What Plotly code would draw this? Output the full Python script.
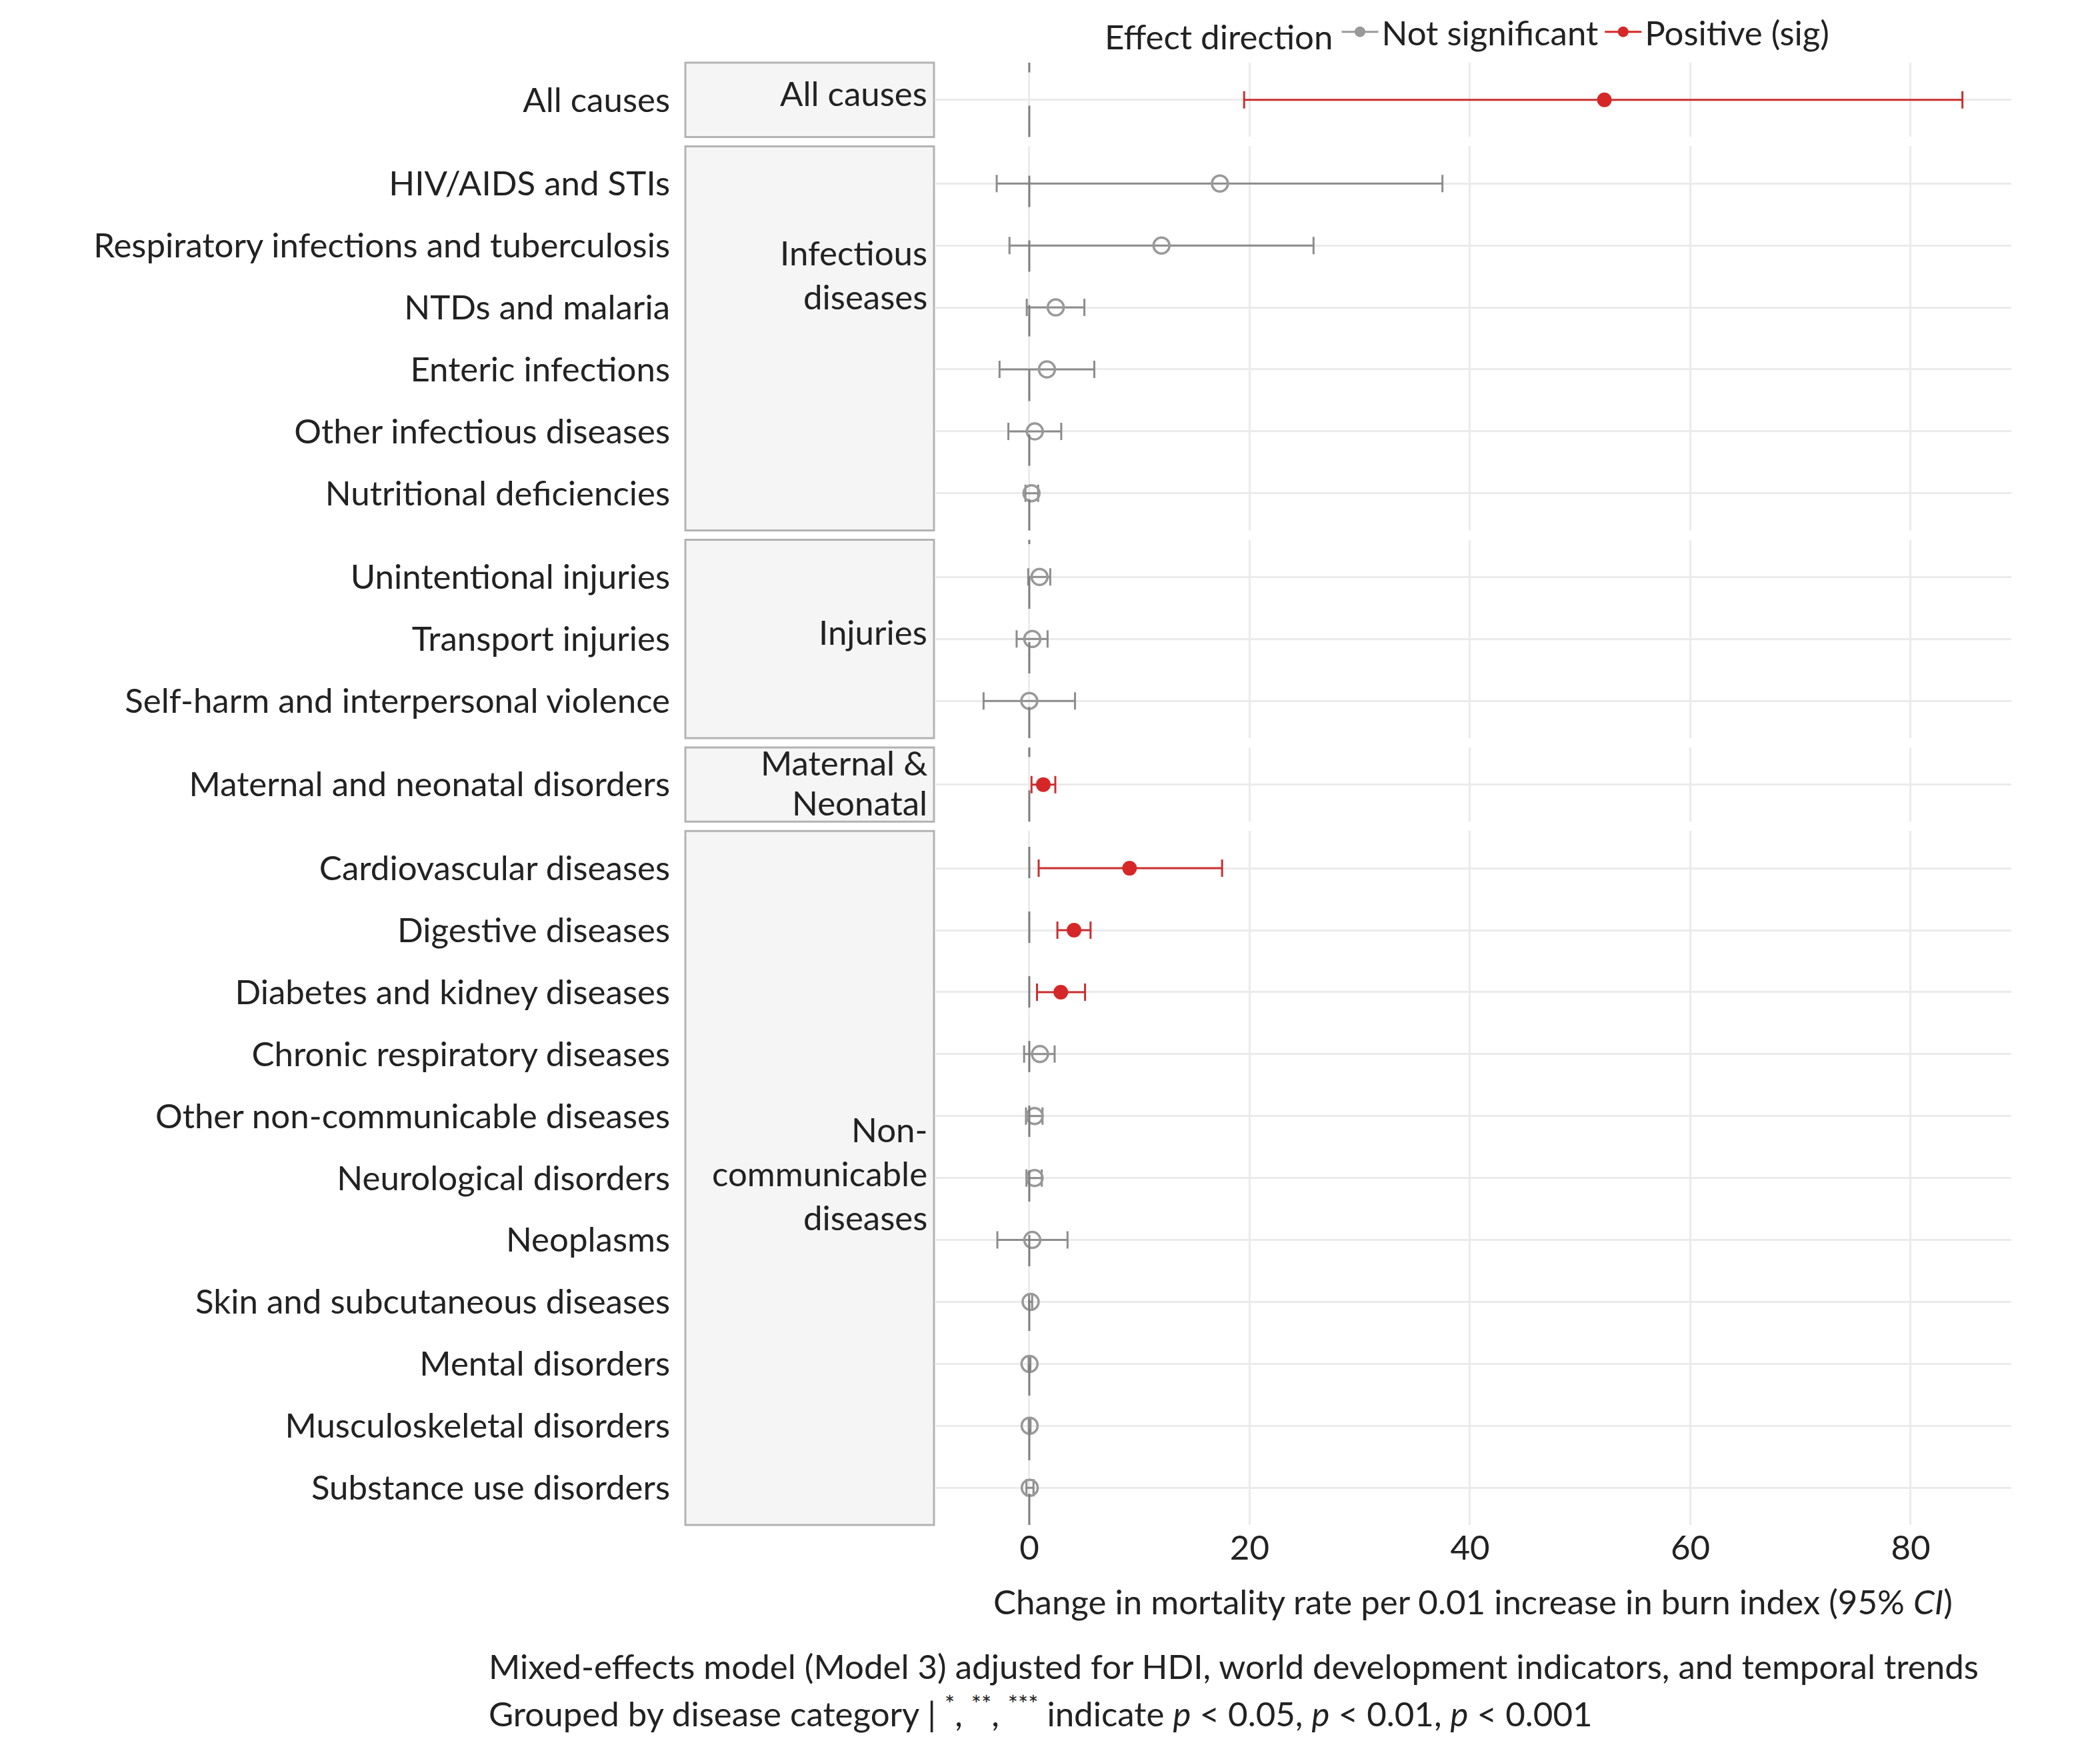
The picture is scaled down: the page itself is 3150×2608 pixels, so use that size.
import plotly.graph_objects as go
from plotly.subplots import make_subplots

# ---------------- data ----------------
group_names = ["All causes", "Infectious diseases", "Injuries",
               "Maternal & Neonatal", "Non-communicable diseases"]

all_causes_labels = ["All causes"]
all_causes_est = [52.2]
all_causes_lo = [19.5]
all_causes_hi = [84.7]
all_causes_sig = [True]

infectious_labels = ["HIV/AIDS and STIs", "Respiratory infections and tuberculosis",
                     "NTDs and malaria", "Enteric infections",
                     "Other infectious diseases", "Nutritional deficiencies"]
infectious_est = [17.3, 12.0, 2.4, 1.6, 0.5, 0.2]
infectious_lo = [-2.96, -1.8, -0.23, -2.7, -1.9, -0.35]
infectious_hi = [37.5, 25.8, 5.0, 5.9, 2.9, 0.8]
infectious_sig = [False, False, False, False, False, False]

injuries_labels = ["Unintentional injuries", "Transport injuries",
                   "Self-harm and interpersonal violence"]
injuries_est = [0.93, 0.27, 0.0]
injuries_lo = [-0.1, -1.15, -4.15]
injuries_hi = [1.9, 1.66, 4.15]
injuries_sig = [False, False, False]

maternal_labels = ["Maternal and neonatal disorders"]
maternal_est = [1.27]
maternal_lo = [0.2]
maternal_hi = [2.36]
maternal_sig = [True]

ncd_labels = ["Cardiovascular diseases", "Digestive diseases",
              "Diabetes and kidney diseases", "Chronic respiratory diseases",
              "Other non-communicable diseases", "Neurological disorders",
              "Neoplasms", "Skin and subcutaneous diseases", "Mental disorders",
              "Musculoskeletal disorders", "Substance use disorders"]
ncd_est = [9.1, 4.06, 2.86, 0.97, 0.48, 0.48, 0.27, 0.12, 0.02, 0.03, 0.04]
ncd_lo = [0.85, 2.55, 0.7, -0.47, -0.3, -0.26, -2.9, -0.02, -0.06, -0.05, -0.26]
ncd_hi = [17.5, 5.56, 5.06, 2.3, 1.2, 1.13, 3.47, 0.26, 0.1, 0.11, 0.38]
ncd_sig = [True, True, True, False, False, False, False, False, False, False, False]

strip_lines = [["All causes"], ["Infectious", "diseases"], ["Injuries"],
               ["Maternal &", "Neonatal"], ["Non-", "communicable", "diseases"]]

x_ticks = [0, 20, 40, 60, 80]
legend_names = ["Not significant", "Positive (sig)"]

groups = [
    (all_causes_labels, all_causes_est, all_causes_lo, all_causes_hi, all_causes_sig),
    (infectious_labels, infectious_est, infectious_lo, infectious_hi, infectious_sig),
    (injuries_labels, injuries_est, injuries_lo, injuries_hi, injuries_sig),
    (maternal_labels, maternal_est, maternal_lo, maternal_hi, maternal_sig),
    (ncd_labels, ncd_est, ncd_lo, ncd_hi, ncd_sig),
]

# ---------------- style / layout ----------------
OFF = 8                      # page body margin
W, H = 3150 - 2 * OFF, 2608 - OFF
ML, MR, MT = 1402 - OFF, 133 - OFF, 94 - OFF
PB = 2287 - OFF              # panel bottom in figure px
MB = H - PB
PW, PH = W - ML - MR, H - MT - MB
FONT = "Lato"
FS = 51
TXT = "#222222"
GRID = "#EBEBEB"
GRAY_PT = "#999999"
GRAY_BAR = "#8C8C8C"
RED_PT = "#D62728"
RED_BAR = "#C8302F"
XR = [-8.59, 89.14]

def px_x(px):
    """screen px (reference image) -> paper x"""
    return (px - OFF - ML) / PW

def px_y(py):
    return 1 - (py - OFF - MT) / PH

row_heights = [len(g[0]) + 0.2 for g in groups]
fig = make_subplots(rows=len(groups), cols=1, shared_xaxes=True,
                    row_heights=row_heights, vertical_spacing=14 / PH)

for i, (labels, est, lo, hi, sig) in enumerate(groups):
    r = i + 1
    for is_sig in (False, True):
        idx = [k for k in range(len(labels)) if sig[k] == is_sig]
        if not idx:
            continue
        xs = [est[k] for k in idx]
        ys = [labels[k] for k in idx]
        ep = [hi[k] - est[k] for k in idx]
        em = [est[k] - lo[k] for k in idx]
        if is_sig:
            marker = dict(symbol="circle", size=22, color=RED_PT)
            ecol = RED_BAR
        else:
            marker = dict(symbol="circle-open", size=24, color=GRAY_PT,
                          line=dict(width=3.5, color=GRAY_PT))
            ecol = GRAY_BAR
        fig.add_trace(go.Scatter(
            x=xs, y=ys, mode="markers", marker=marker, showlegend=False,
            error_x=dict(type="data", symmetric=False, array=ep, arrayminus=em,
                         color=ecol, thickness=3, width=13),
            hoverinfo="skip"), row=r, col=1)
    n = len(labels)
    yname = "yaxis" if r == 1 else f"yaxis{r}"
    fig.layout[yname].update(
        type="category", categoryorder="array", categoryarray=labels,
        range=[n - 1 + 0.6, -0.6], showgrid=True, gridcolor=GRID, gridwidth=3,
        zeroline=False, showline=False, ticks="", ticklabelstandoff=396,
        tickfont=dict(family=FONT, size=FS, color=TXT), fixedrange=True)
    xname = "xaxis" if r == 1 else f"xaxis{r}"
    fig.layout[xname].update(
        range=XR, tickvals=x_ticks, showgrid=True, gridcolor=GRID, gridwidth=3,
        zeroline=False, showline=False, ticks="",
        tickfont=dict(family=FONT, size=FS, color=TXT))
    yd = ("y" if r == 1 else f"y{r}") + " domain"
    xa = "x" if r == 1 else f"x{r}"
    # dashed zero reference line
    fig.add_shape(type="line", xref=xa, yref=yd, x0=0, x1=0, y0=0, y1=1,
                  line=dict(color="#7F7F7F", width=3, dash="47px,50px"),
                  layer="above")
    # facet strip box
    fig.add_shape(type="rect", xref="paper", yref=yd, x0=px_x(1028), x1=px_x(1401),
                  y0=0, y1=1, fillcolor="#F5F5F5",
                  line=dict(color="#B3B3B3", width=3), layer="below")

# strip label lines (pixel centres in the reference picture)
strip_line_px = [[140], [379, 445], [947], [1143, 1203], [1693, 1759, 1825]]
for lines, ys in zip(strip_lines, strip_line_px):
    for t, py in zip(lines, ys):
        fig.add_annotation(text=t, xref="paper", yref="paper", x=px_x(1393),
                           y=px_y(py), xanchor="right", yanchor="middle",
                           showarrow=False,
                           font=dict(family=FONT, size=FS, color=TXT))

last = "xaxis" + str(len(groups))
fig.layout[last].update(
    title=dict(text="Change in mortality rate per 0.01 increase in burn index (95% <i>CI</i>)",
               font=dict(family=FONT, size=FS, color=TXT), standoff=36))

# legend dummies
fig.add_trace(go.Scatter(x=[None], y=[None], mode="lines+markers", name=legend_names[0],
                         marker=dict(symbol="circle", size=22, color=GRAY_PT),
                         line=dict(color=GRAY_PT, width=3)), row=1, col=1)
fig.add_trace(go.Scatter(x=[None], y=[None], mode="lines+markers", name=legend_names[1],
                         marker=dict(symbol="circle", size=22, color=RED_PT),
                         line=dict(color=RED_PT, width=3)), row=1, col=1)

captions = ["Mixed-effects model (Model 3) adjusted for HDI, world development indicators, and temporal trends",
            "Grouped by disease category | <sup>*</sup>, <sup>**</sup>, <sup>***</sup> indicate <i>p</i> &lt; 0.05, <i>p</i> &lt; 0.01, <i>p</i> &lt; 0.001"]
for t, py in zip(captions, [2498, 2566]):
    fig.add_annotation(text=t, xref="paper", yref="paper", x=px_x(731), y=px_y(py),
                       xanchor="left", yanchor="middle", showarrow=False, align="left",
                       font=dict(family=FONT, size=FS, color=TXT))

fig.update_layout(
    width=W, height=H, margin=dict(l=ML, r=MR, t=MT, b=MB, autoexpand=False),
    paper_bgcolor="white", plot_bgcolor="white",
    font=dict(family=FONT, size=FS, color=TXT),
    legend=dict(orientation="h", x=px_x(1655), xanchor="left", y=px_y(OFF),
                yanchor="top", valign="middle",
                title=dict(text="Effect direction", side="left",
                           font=dict(family=FONT, size=FS, color=TXT)),
                font=dict(family=FONT, size=FS, color=TXT), itemwidth=55,
                bgcolor="rgba(0,0,0,0)"),
)

fig.write_html("out.html")
